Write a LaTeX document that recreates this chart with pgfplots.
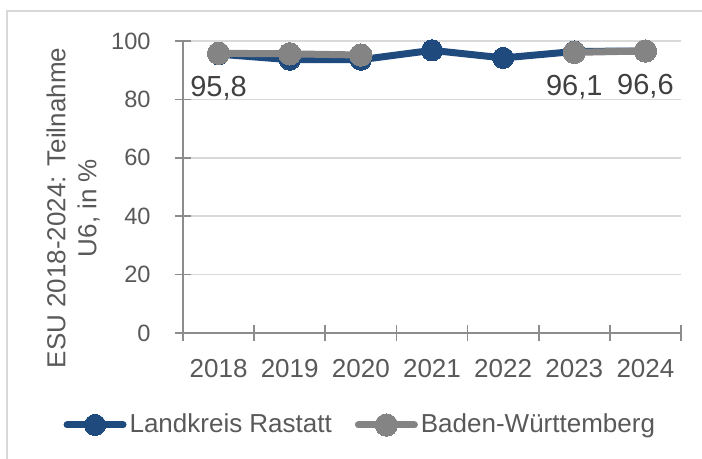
\documentclass[border=0pt]{standalone}
\usepackage{pgfplots}
\pgfplotsset{compat=1.18}
\usepackage{fontspec}
\setmainfont{Liberation Sans}

\definecolor{lkblue}{HTML}{1F4A7E}
\definecolor{bwgray}{HTML}{848484}
\definecolor{axisgray}{HTML}{8C8C8C}
\definecolor{gridgray}{HTML}{D9D9D9}
\definecolor{textgray}{HTML}{595959}
\definecolor{labelgray}{HTML}{404040}
\definecolor{framegray}{HTML}{D9D9D9}

\begin{document}
\begin{tikzpicture}
\useasboundingbox (0,0) rectangle (351pt,229.5pt);
\draw[framegray, line width=0.6pt] (3.5pt,-2pt) -- (3.5pt,224pt) -- (353pt,224pt);

\begin{axis}[
  at={(91.5pt,63pt)}, anchor=south west,
  scale only axis,
  width=249pt, height=146pt,
  xmin=-0.5, xmax=6.5,
  ymin=0, ymax=100,
  xtick={-0.5,0.5,...,6.5},
  x tick label as interval,
  xticklabels={2018,2019,2020,2021,2022,2023,2024},
  ytick={0,20,40,60,80,100},
  /pgf/number format/assume math mode=true,
  axis x line*=bottom, axis y line*=left,
  axis line style={axisgray, line width=0.8pt},
  ymajorgrids,
  grid style={gridgray, line width=0.8pt},
  tick align=center,
  major tick length=8pt,
  tick style={axisgray, line width=0.8pt},
  x tick label style={font=\fontsize{13}{15}\selectfont, text=textgray, anchor=north, inner sep=0pt, yshift=-9pt},
  y tick label style={font=\fontsize{11.8}{14}\selectfont, text=textgray, anchor=east, inner sep=0pt, xshift=-12pt},
  unbounded coords=jump,
  legend columns=2,
  legend style={at={(0.357,-0.315)}, anchor=center, draw=none, fill=none,
    font=\fontsize{13}{15}\selectfont, text=textgray,
    /tikz/every even column/.append style={column sep=10pt},
    nodes={inner sep=1.5pt}},
  legend image code/.code={\draw[mark repeat=2,mark phase=2,#1] plot coordinates {(0pt,0pt) (14pt,0pt) (28pt,0pt)};},
  clip=false,
]
\addplot[lkblue, line width=3.5pt, line cap=round, line join=round, mark=*, mark size=5.3pt, mark options={solid, fill=lkblue, draw=lkblue, line width=0pt}]
table {
0 95.5
1 93.6
2 93.6
3 96.8
4 94.2
5 96.4
6 96.6
};
\addlegendentry{Landkreis Rastatt}
\addplot[bwgray, line width=3.5pt, line cap=round, line join=round, mark=*, mark size=5.6pt, mark options={solid, fill=bwgray, draw=bwgray, line width=0pt}]
table {
0 95.8
1 95.6
2 95.2
3 nan
4 nan
5 96.1
6 96.6
};
\addlegendentry{Baden-Württemberg}
\addplot[draw=none, forget plot, nodes near coords, point meta=explicit symbolic,
  nodes near coords style={anchor=center, yshift=-17.5pt, text=labelgray, font=\fontsize{14.5}{16}\selectfont}]
table[meta=label] {
x y label
0 95.8 {95,8}
5 96.1 {96,1}
6 96.6 {96,6}
};
\end{axis}

\node[rotate=90, align=center, text=textgray, font=\fontsize{13}{15.5}\selectfont] at (36.5pt,125.5pt) {ESU 2018-2024: Teilnahme\\U6, in \%};
\end{tikzpicture}
\end{document}
